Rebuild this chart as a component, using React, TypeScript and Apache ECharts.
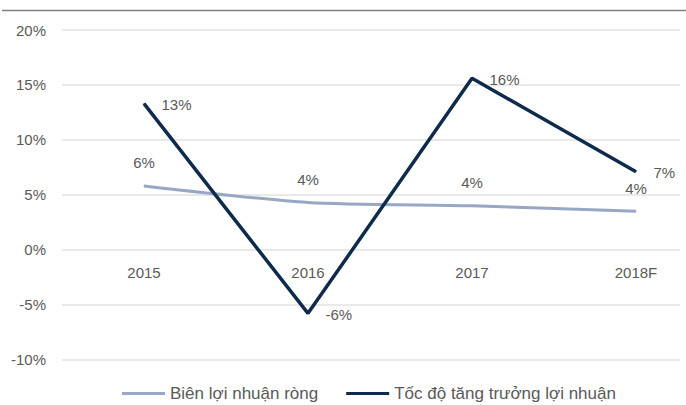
import React, { useEffect, useRef } from "react";
import * as echarts from "echarts";

const categories = ["2015", "2016", "2017", "2018F"];
const netMargin = [0.058, 0.043, 0.04, 0.035];
const profitGrowth = [0.133, -0.058, 0.156, 0.071];
const yTicks = { min: -0.1, max: 0.2, interval: 0.05 };
const seriesNames = ["Biên lợi nhuận ròng", "Tốc độ tăng trưởng lợi nhuận"];

const TEXT = "#595959";
const LIGHT = "#98A8C4";
const DARK = "#0E2B4C";
const FONT = "Liberation Sans";

const pct = (v: number) => `${Math.round(v * 100)}%`;

export default function App() {
  const ref = useRef<HTMLDivElement>(null);
  useEffect(() => {
    if (!ref.current) return;
    const chart = echarts.init(ref.current, undefined, { renderer: "svg" });
    chart.setOption({
      animation: false,
      backgroundColor: "#ffffff",
      grid: {
        left: 62,
        width: 656,
        top: 30,
        height: 329.5,
        containLabel: false,
        outerBoundsMode: "none",
      },
      xAxis: {
        type: "category",
        data: categories,
        boundaryGap: true,
        axisLine: { show: false, onZero: false },
        axisTick: { show: false },
        axisLabel: { color: TEXT, fontFamily: FONT, fontSize: 15, margin: -95 },
        splitLine: { show: false },
      },
      yAxis: {
        type: "value",
        min: yTicks.min,
        max: yTicks.max,
        interval: yTicks.interval,
        axisLine: { show: false },
        axisTick: { show: false },
        axisLabel: {
          color: TEXT,
          fontFamily: FONT,
          fontSize: 15,
          margin: 16,
          formatter: (v: number) => pct(v),
        },
        splitLine: { lineStyle: { color: "#E2E2E2", width: 1.5 } },
      },
      legend: {
        left: 117,
        top: 380,
        itemWidth: 43,
        itemHeight: 3,
        itemGap: 28,
        icon: "rect",
        textStyle: { color: TEXT, fontFamily: FONT, fontSize: 17 },
        data: [
          { name: seriesNames[0], itemStyle: { color: LIGHT, opacity: 1 } },
          { name: seriesNames[1], itemStyle: { color: DARK, opacity: 1 } },
        ],
      },
      series: [
        {
          name: seriesNames[0],
          type: "line",
          data: netMargin,
          smooth: 0.25,
          symbol: "circle",
          symbolSize: 1,
          showSymbol: true,
          itemStyle: { color: LIGHT },
          lineStyle: { color: LIGHT, width: 3 },
          label: {
            show: true,
            position: "top",
            distance: 15,
            color: TEXT,
            fontFamily: FONT,
            fontSize: 15,
            formatter: (p: any) => pct(p.value),
          },
          z: 2,
        },
        {
          name: seriesNames[1],
          type: "line",
          data: profitGrowth,
          symbol: "circle",
          symbolSize: 1,
          showSymbol: true,
          itemStyle: { color: DARK },
          lineStyle: { color: DARK, width: 3.5 },
          label: {
            show: true,
            position: "right",
            distance: 17,
            offset: [0, 1],
            color: TEXT,
            fontFamily: FONT,
            fontSize: 15,
            formatter: (p: any) => pct(p.value),
          },
          z: 3,
        },
      ],
      graphic: [
        {
          type: "rect",
          z: 100,
          shape: { x: 680, y: 20, width: 10, height: 350 },
          style: { fill: "#ffffff" },
        },
        {
          type: "line",
          z: 100,
          shape: { x1: 2, y1: 10.5, x2: 686, y2: 10.5 },
          style: { stroke: "#808080", lineWidth: 1.5 },
        },
      ],
    });
    return () => chart.dispose();
  }, []);
  return (
    <div
      ref={ref}
      style={{ position: "fixed", left: 0, top: 0, width: 686, height: 405, background: "#fff" }}
    />
  );
}
